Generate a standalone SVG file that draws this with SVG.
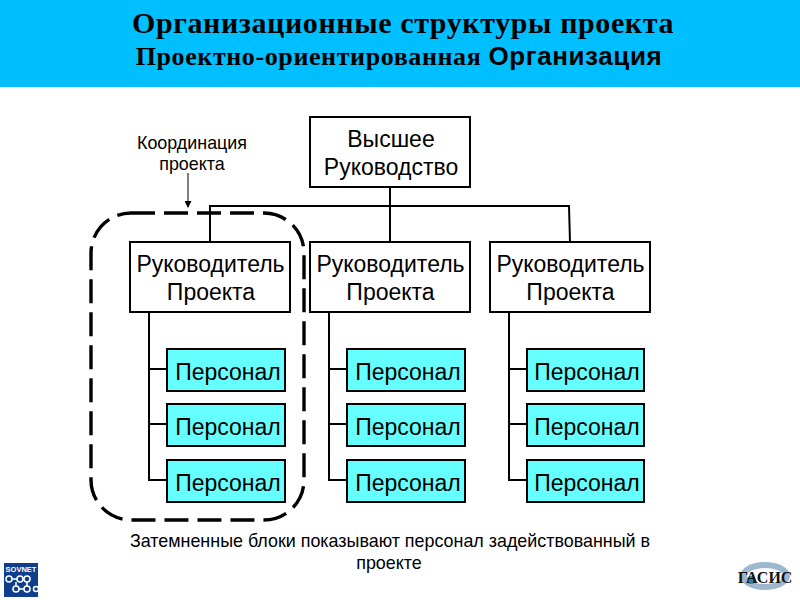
<svg xmlns="http://www.w3.org/2000/svg" width="800" height="600" viewBox="0 0 800 600">
<style>
.s{font-family:"Liberation Sans",Arial,sans-serif;fill:#000}
.t{font-family:"Liberation Serif","Times New Roman",serif;font-weight:bold;fill:#000}
.box{fill:#fff;stroke:#000;stroke-width:2}
.p{fill:#66ffff;stroke:#000;stroke-width:2}
.n{font-size:23px;text-anchor:middle}
.l{font-size:17.9px;text-anchor:middle}
.c{fill:none;stroke:#000;stroke-width:2}
</style>
<defs>
<marker id="a" markerWidth="7" markerHeight="7" refX="6" refY="3.5" orient="auto" markerUnits="userSpaceOnUse"><path d="M0 0L7 3.5L0 7z" fill="#000"/></marker>
<g id="staff"><path class="c" d="M0 0V169M-1 57H18M-1 112H18M-1 168H18"/></g>
</defs>
<rect width="800" height="87" fill="#00bfff"/>
<text class="t" x="403" y="33" font-size="30" letter-spacing="0.6" text-anchor="middle">Организационные структуры проекта</text>
<text class="t" x="399" y="65" font-size="26" letter-spacing="0.6" text-anchor="middle">Проектно-ориентированная <tspan style="font-family:'Liberation Sans',Arial,sans-serif">Организация</tspan></text>

<g id="connectors">
<path class="c" d="M210 242V206H569L570 242M390 187V242"/>
<use href="#staff" x="149" y="312"/>
<use href="#staff" x="329" y="312"/>
<use href="#staff" x="509" y="312"/>
<path d="M188 173V207" fill="none" stroke="#000" stroke-width="1" marker-end="url(#a)"/>
</g>

<rect id="coordination-frame" x="91" y="213" width="213" height="307" rx="40" fill="none" stroke="#000" stroke-width="3.4" stroke-dasharray="24 9"/>

<g id="top"><rect class="box" x="310" y="117" width="160" height="70"/><text class="s n" x="391" y="147">Высшее</text><text class="s n" x="391" y="175">Руководство</text></g>

<g id="pm1"><rect class="box" x="130" y="242" width="160" height="70"/><text class="s n" x="210.500" y="272">Руководитель</text><text class="s n" x="211" y="300">Проекта</text></g>
<g id="pm2"><rect class="box" x="310" y="242" width="160" height="70"/><text class="s n" x="390.500" y="272">Руководитель</text><text class="s n" x="390.500" y="300">Проекта</text></g>
<g id="pm3"><rect class="box" x="490" y="242" width="160" height="70"/><text class="s n" x="570.500" y="272">Руководитель</text><text class="s n" x="570.500" y="300">Проекта</text></g>

<g id="s11"><rect class="p" x="167" y="349" width="118" height="42"/><text class="s n" x="228" y="380">Персонал</text></g>
<g id="s12"><rect class="p" x="167" y="404" width="118" height="42"/><text class="s n" x="228" y="435">Персонал</text></g>
<g id="s13"><rect class="p" x="167" y="460" width="118" height="42"/><text class="s n" x="228" y="491">Персонал</text></g>
<g id="s21"><rect class="p" x="347" y="349" width="118" height="42"/><text class="s n" x="408" y="380">Персонал</text></g>
<g id="s22"><rect class="p" x="347" y="404" width="118" height="42"/><text class="s n" x="408" y="435">Персонал</text></g>
<g id="s23"><rect class="p" x="347" y="460" width="118" height="42"/><text class="s n" x="408" y="491">Персонал</text></g>
<g id="s31"><rect class="p" x="527" y="349" width="117" height="42"/><text class="s n" x="587" y="380">Персонал</text></g>
<g id="s32"><rect class="p" x="527" y="404" width="117" height="42"/><text class="s n" x="587" y="435">Персонал</text></g>
<g id="s33"><rect class="p" x="527" y="460" width="117" height="42"/><text class="s n" x="587" y="491">Персонал</text></g>

<text class="s l" x="192" y="149">Координация</text>
<text class="s l" x="192" y="170">проекта</text>
<text class="s l" x="390" y="547">Затемненные блоки показывают персонал задействованный в</text>
<text class="s l" x="389" y="569">проекте</text>

<g id="logo-sovnet">
<rect x="4" y="563" width="34" height="34" fill="#0f3f8c"/>
<text x="21" y="572" font-family="Liberation Sans,sans-serif" font-size="7.5" font-weight="bold" fill="#fff" text-anchor="middle">SOVNET</text>
<g fill="none" stroke="#fff" stroke-width="1.5"><circle cx="9" cy="579" r="3"/><circle cx="20" cy="579" r="3"/><circle cx="27" cy="579" r="3"/><circle cx="16" cy="589" r="3"/><circle cx="27" cy="589" r="3"/><circle cx="36" cy="589" r="2.5"/><path d="M12 579H17M23 579H24M19 589H24M27 582V586M16 582V586"/></g>
</g>
<g id="logo-gasis">
<ellipse cx="765" cy="576" rx="25" ry="14" fill="#9db8cc"/>
<ellipse cx="765" cy="576" rx="18" ry="8" fill="#fff"/>
<circle cx="751" cy="580" r="4" fill="#2a7fb0"/>
<text x="765" y="583" font-family="Liberation Serif,serif" font-size="16" font-weight="bold" fill="#111" text-anchor="middle">ГАСИС</text>
</g>
</svg>
